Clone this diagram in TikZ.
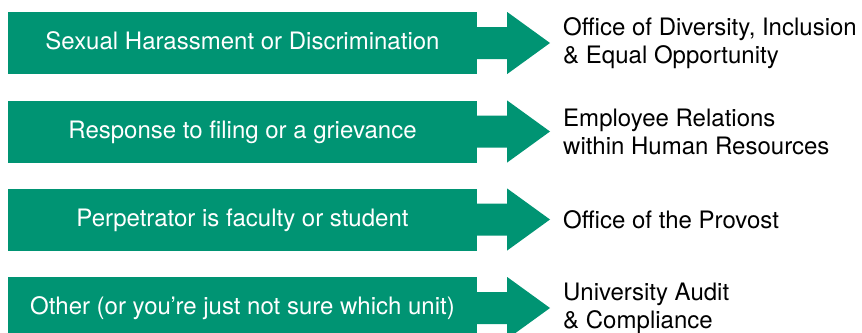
\documentclass[tikz,border=0pt]{standalone}
\usepackage{fontspec}
\setmainfont{TeX Gyre Heros}
\definecolor{ugreen}{RGB}{0,148,115}
\begin{document}
\begin{tikzpicture}[x=1pt,y=1pt,
  box/.style={fill=ugreen, text=white, minimum width=469pt, minimum height=62pt,
    inner sep=0pt, text height=17pt, text depth=4pt,
    font=\fontsize{24}{28}\selectfont},
  dest/.style={anchor=west, align=left, inner sep=0pt, text=black,
    font=\fontsize{24}{28}\selectfont},
  arrowshape/.style={fill=ugreen}]
\useasboundingbox (0,0) rectangle (862,-332);
\node[box] (b1) at (242.5,-43) {Sexual Harassment or Discrimination};
\node[box] (b2) at (242.5,-131.5) {Response to filing or a grievance};
\node[box] (b3) at (242.5,-219.5) {Perpetrator is faculty or student};
\node[box] (b4) at (242.5,-308) {Other (or you’re just not sure which unit)};
\node[dest] (d1) at (563,-43) {Office of Diversity, Inclusion\\\& Equal Opportunity};
\node[dest] (d2) at (563,-131.5) {Employee Relations\\within Human Resources};
\node[dest] (d3) at (563,-219.5) {Office of the Provost};
\node[dest] (d4) at (563,-308) {University Audit\\\& Compliance};
\foreach \i in {1,2,3,4}{
  \fill[arrowshape] ([yshift=16]b\i.east) -- ++(30,0) -- ++(0,15)
    -- ([xshift=-13]d\i.west) -- ([shift={(30,-31)}]b\i.east) -- ++(0,15)
    -- ([yshift=-16]b\i.east) -- cycle;
}
\end{tikzpicture}
\end{document}
